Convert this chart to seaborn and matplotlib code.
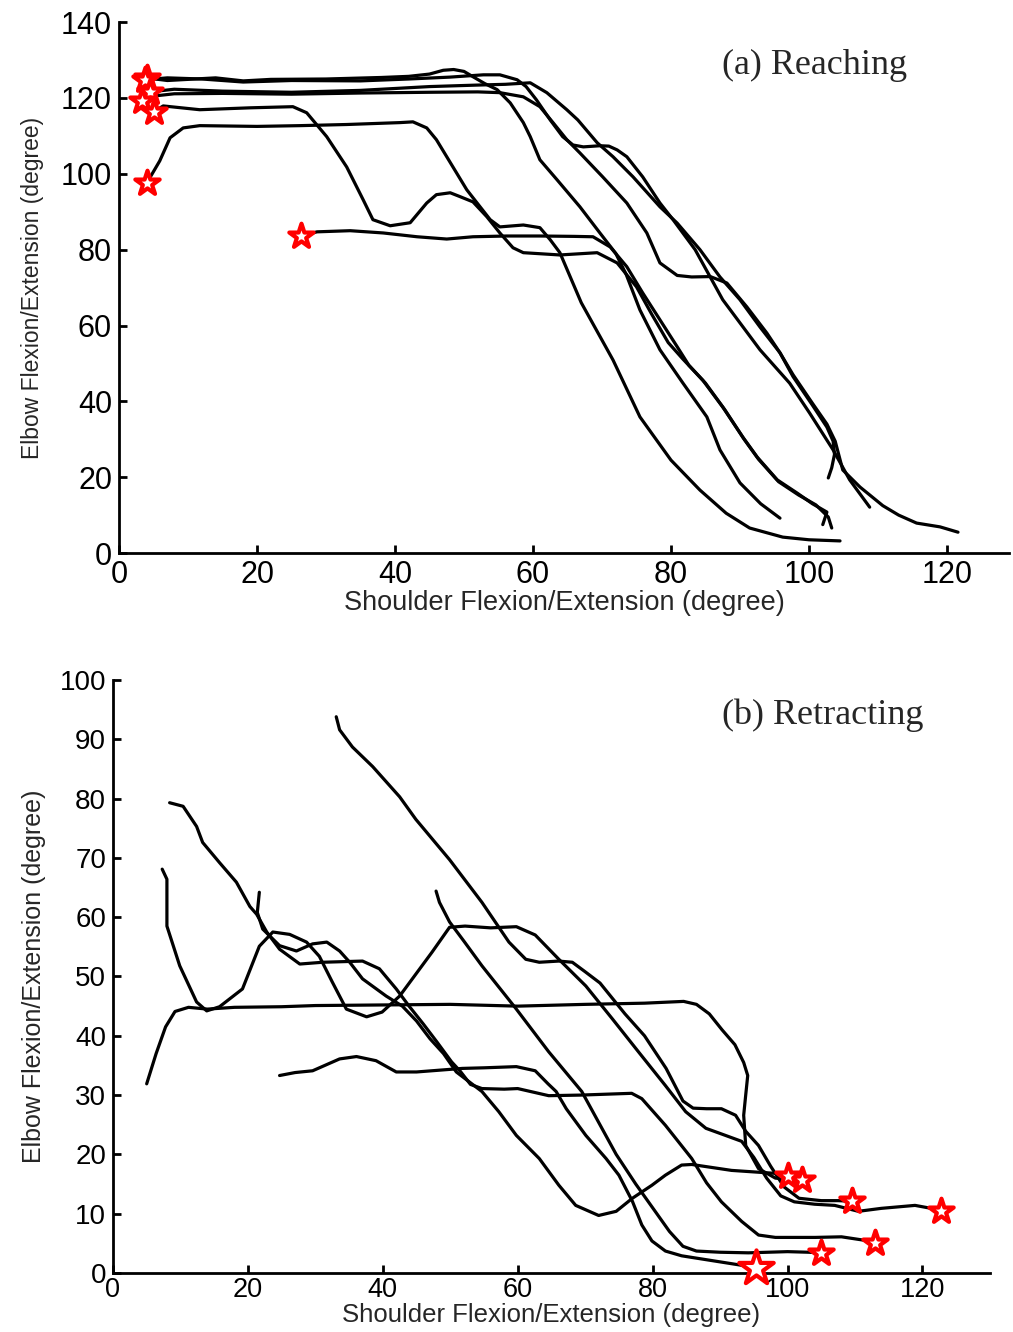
import matplotlib
matplotlib.use("Agg")
import matplotlib.pyplot as plt
import seaborn as sns

# ---------------- (a) Reaching: shoulder vs elbow angle (degree) ----------------
reach_1_x = [4.0, 7, 10, 14, 18, 22, 30, 38, 42, 45, 47, 48.5, 50, 51.3, 53, 54.8, 56.7, 58.6, 59.6, 61,
             63.5, 66.8, 69.7, 72, 73.5, 75.5, 78.4, 81.7, 85.2, 87.1, 90, 93, 95.8]
reach_1_y = [125.3, 124.6, 124.9, 125.3, 124.5, 124.9, 125, 125.4, 125.7, 126.3, 127.3, 127.5, 127, 125.6,
             123.8, 122.2, 118.7, 113.5, 109.8, 103.7, 98.4, 91.3, 84.4, 79, 73.5, 64.1, 53.6, 44.9, 35.9,
             27.2, 18.5, 13, 9.2]

reach_2_x = [3.8, 7, 12, 18, 25, 35, 42, 48, 52.8, 55.2, 57.7, 59, 60.5, 62.5, 64.3, 65.8, 67.3, 69.7, 71,
             72.2, 73.6, 75.9, 78.4, 80.3, 83.5, 87.5, 90.2, 92.9, 97.2, 100.1, 103.5, 105.9, 108.8]
reach_2_y = [124.8, 125.3, 125, 124.2, 124.6, 124.5, 125, 125.5, 126.1, 126.1, 124.8, 123, 119.5, 114.2,
             109.8, 107.6, 107.1, 107.4, 107.3, 106.3, 104.5, 99.2, 92.3, 87.9, 80, 66.8, 60.2, 53.6, 44.8,
             36.9, 27.2, 19.3, 12.1]

reach_3_x = [4.5, 8, 15, 25, 35, 45, 52, 56, 59.6, 62, 64.9, 66.5, 69.3, 71.6, 74.5, 78.4, 80.9, 84.2, 87.1,
             90, 92.9, 95.8, 97.7, 100.5, 102.6, 103.5, 103.7, 103.3, 102.8]
reach_3_y = [121.6, 122.3, 121.8, 121.5, 122, 123, 123.4, 123.6, 124, 121.4, 116.9, 114.2, 108.2, 104.5,
             99.2, 91.3, 87, 80, 72.8, 66.8, 59.6, 52.8, 46.5, 39, 33.2, 29.5, 26, 22.5, 19.8]

reach_4_x = [3.4, 5, 8, 15, 25, 35, 45, 52, 55.2, 58.6, 61, 62.9, 64.9, 66.8, 70.1, 73.6, 76.5, 78.4, 80.9,
             83, 85.7, 88.1, 91, 93.9, 95.8, 97.7, 100.5, 102.6, 103.8, 104.9, 107.4, 110.7, 113, 115.6,
             119, 121.6]
reach_4_y = [119.1, 120.5, 121.1, 121.2, 121, 121.3, 121.5, 121.6, 121.4, 120.3, 117.7, 113.5, 109, 105.5,
             99.2, 92.3, 84.4, 76.5, 73.2, 72.8, 72.9, 71.2, 64.9, 58, 52.8, 47, 39.5, 34, 29.5, 21.9,
             17.4, 12.5, 10, 7.9, 6.9, 5.5]

reach_5_x = [4.0, 5.9, 7.4, 9.3, 11.7, 20, 26.2, 33, 40.7, 42.6, 44.6, 46, 47.5, 48.4, 50.4, 51.9, 53.8,
             55.2, 58.6, 61, 62.5, 63.9, 67, 71.6, 75.5, 80, 84.2, 88, 91.4, 96.2, 100, 104.5]
reach_5_y = [97.5, 103.4, 109.5, 112.1, 112.7, 112.5, 112.7, 113, 113.5, 113.7, 112.1, 109, 104.5, 101.8,
             95.8, 92.3, 87.9, 86, 86.5, 85.8, 82.6, 79.2, 66, 50.9, 35.9, 24.5, 16.6, 10.5, 6.6, 4.2,
             3.5, 3.2]

reach_6_x = [5.1, 6.4, 11.7, 19, 25.2, 27.2, 30.1, 33, 35.4, 36.8, 39.3, 42.2, 44.6, 46, 48, 49.4, 51.3,
             53.3, 55.2, 57.1, 58.6, 63.9, 69.3, 72.2, 75, 77.2, 79.6, 81.7, 84.6, 87.5, 90.4, 92.5, 95.4,
             98.3, 100.5, 102.6, 102]
reach_6_y = [116.4, 117.9, 116.9, 117.4, 117.7, 116.1, 109.8, 101.8, 93.1, 87.9, 86.3, 87.1, 92.3, 94.5,
             95, 94, 92.6, 88.7, 84.4, 80.5, 79.2, 78.6, 79.2, 76.5, 70.2, 63, 55.5, 51.2, 45.6, 38.5,
             30.6, 25.3, 19.3, 15.8, 13, 10.8, 7.5]

reach_7_x = [26.4, 28.7, 33.5, 38.3, 43.2, 47.5, 51.3, 56.2, 61, 66, 68.7, 71.2, 73.6, 75.9, 78.4, 80.9,
             82.6, 85, 87.8, 90.6, 92.7, 95.6, 98.5, 101, 102.8, 103.3]
reach_7_y = [83.6, 84.7, 85, 84.4, 83.4, 82.8, 83.4, 83.6, 83.6, 83.5, 83.4, 80.7, 75.5, 68.6, 61.5, 54.4,
             49.5, 44.8, 37.8, 30, 24.7, 18.8, 15.3, 12.7, 9.5, 6.6]

# ---------------- (b) Retracting ----------------
ret_1_x = [5, 6.4, 7.8, 9.2, 11.2, 14, 18, 25, 30, 40, 50, 60, 70, 78.8, 84.6, 86.5, 88.4, 90.3, 92.2,
           93.5, 94.1, 93.8, 93.5, 93.8, 95.7, 98.2, 102.1]
ret_1_y = [31.9, 37, 41.5, 44.1, 44.8, 44.5, 44.8, 44.9, 45.1, 45.2, 45.3, 45, 45.3, 45.5, 45.8, 45.3,
           43.7, 41, 38.5, 35.5, 33.3, 30, 26.6, 21.5, 17.6, 16, 15.6]

ret_2_x = [7.3, 8, 8, 9.9, 12.4, 13.9, 15.8, 19.2, 21.7, 23.7, 26.2, 28.7, 30.6, 32.5, 34.6, 37.6, 39.9,
           42.5, 47.3, 49.9, 52.2, 56, 59.8, 62.6, 66.1, 70.1, 74, 77.9, 81.9, 84.9, 87.9, 90.8, 93.2, 95,
           96.9, 99, 101, 104, 107, 110.5, 113.9, 118.9, 121.3, 122.8]
ret_2_y = [68.1, 66.4, 58.5, 51.8, 45.7, 44.2, 44.9, 47.9, 55.1, 57.5, 57.1, 55.8, 53.4, 49.1, 44.5, 43.2,
           44, 46.7, 54.1, 58.3, 58.5, 58.2, 58.4, 57, 52.9, 48.4, 42.9, 37.3, 31.6, 27.2, 24.4, 23.2,
           22.2, 19.5, 16, 13, 12, 11.6, 11.4, 10.4, 10.9, 11.4, 10.9, 10.4]

ret_3_x = [8.4, 10.4, 12.4, 13.3, 15.8, 18.3, 20.3, 21.3, 22.8, 24.7, 27.7, 31.1, 37, 39.5, 42, 43.9, 46,
           48, 50.2, 51.5, 53, 54.7, 58, 60, 64.6, 69.3, 76.9, 78.4, 81.9, 85.8, 88, 90.2, 93.2, 95.7,
           98.2, 104.1, 108, 111.5, 112.9]
ret_3_y = [79.3, 78.7, 75.3, 72.6, 69.2, 65.9, 61.8, 60.5, 57.5, 54.6, 52.1, 52.4, 52.6, 51.3, 47.9, 45,
           42, 39, 35.6, 34, 31.8, 31.1, 31, 31.1, 29.9, 30, 30.3, 29.4, 24.9, 19.3, 15.2, 12, 8.7, 6.4,
           6, 6, 6.1, 5.5, 5]

ret_4_x = [21.7, 21.4, 22.2, 24.7, 27.2, 29.6, 31.7, 33.6, 35.1, 37, 40.5, 42.9, 45, 47, 49, 50.9, 54.7,
           57.2, 59.8, 63.2, 66.1, 68.6, 72, 74.6, 77, 79.9, 81.9, 84.3, 85.8, 91.7, 98.2, 100.1]
ret_4_y = [64.2, 60.8, 58, 55.2, 54.3, 55.5, 55.8, 54.3, 52.4, 49.6, 46.7, 45, 42.5, 39.5, 37, 33.9, 30.6,
           27.2, 23.2, 19.3, 14.8, 11.4, 9.7, 10.4, 12.6, 14.8, 16.5, 18.2, 18.3, 17.3, 16.8, 16.3]

ret_5_x = [24.7, 27, 29.6, 33.6, 36.1, 39, 42, 45, 51.8, 55, 59.8, 62.6, 64.5, 65.7, 67.2, 70.1, 73.1, 75,
           77, 78.4, 79.9, 81.9, 84.3, 89.3, 93.2, 95.3]
ret_5_y = [33.3, 33.8, 34.1, 36.1, 36.5, 35.8, 33.9, 33.9, 34.5, 34.6, 34.8, 34.1, 31.9, 30.6, 27.7, 23.2,
           19.3, 16.5, 12.1, 8.1, 5.4, 3.7, 2.9, 2, 1.3, 0.8]

ret_6_x = [33.1, 33.6, 35.5, 38.5, 42.5, 44.9, 49.9, 54.7, 58.7, 61.2, 63.2, 66.1, 68.1, 70, 72.2, 75.9,
           78.8, 82, 84.5, 86, 88, 90.2, 92.3, 93.8, 95.7, 97.5, 99.5, 101.7, 105, 107.5, 109.5]
ret_6_y = [93.8, 91.6, 88.7, 85.4, 80.3, 76.5, 69.7, 62.5, 55.8, 52.9, 52.4, 52.6, 52.4, 50.8, 48.9, 43.7,
           40, 34.5, 29, 27.8, 27.7, 27.7, 26.6, 23.9, 21.5, 18, 14.5, 12.6, 12.2, 12.2, 12.1]

ret_7_x = [47.9, 48.4, 49.9, 52, 54.7, 59.8, 64.6, 69.5, 74.6, 77.5, 80, 82.5, 84.5, 86.5, 90, 94.2, 100,
           103.1, 104.9]
ret_7_y = [64.4, 62.5, 59.2, 56, 51.8, 44.5, 37.3, 30.6, 20, 15, 11, 7, 4.5, 3.7, 3.5, 3.4, 3.6, 3.5, 3.4]

reach_paths = [(reach_1_x, reach_1_y), (reach_2_x, reach_2_y), (reach_3_x, reach_3_y),
               (reach_4_x, reach_4_y), (reach_5_x, reach_5_y), (reach_6_x, reach_6_y),
               (reach_7_x, reach_7_y)]
ret_paths = [(ret_1_x, ret_1_y), (ret_2_x, ret_2_y), (ret_3_x, ret_3_y), (ret_4_x, ret_4_y),
             (ret_5_x, ret_5_y), (ret_6_x, ret_6_y), (ret_7_x, ret_7_y)]

x_label = "Shoulder Flexion/Extension (degree)"
y_label = "Elbow Flexion/Extension (degree)"

sns.set_style("ticks")
plt.rcParams['font.family'] = ['Liberation Sans', 'DejaVu Sans']

fig = plt.figure(figsize=(10.13, 13.32), dpi=100)
ax1 = fig.add_axes([0.1175, 0.5848, 0.8786, 0.3986])
ax2 = fig.add_axes([0.1115, 0.0443, 0.8657, 0.4452])


def draw_paths(ax, paths, star_at_start, big_last=False):
    for xs, ys in paths:
        sns.lineplot(x=xs, y=ys, sort=False, estimator=None, color='black', lw=2.3, ax=ax,
                     solid_joinstyle='round', solid_capstyle='round')
    idx = 0 if star_at_start else -1
    sx = [p[0][idx] for p in paths]
    sy = [p[1][idx] for p in paths]
    sizes = [340] * len(paths)
    if big_last:
        # the end point nearest the x axis gets the larger marker
        k = min(range(len(sy)), key=lambda i: sy[i])
        sizes[k] = 680
    for x0, y0, s in zip(sx, sy, sizes):
        sns.scatterplot(x=[x0], y=[y0], marker='*', s=s, color='white', edgecolor='red',
                        linewidth=3.0, ax=ax, zorder=5, clip_on=False, legend=False)


draw_paths(ax1, reach_paths, star_at_start=True)
draw_paths(ax2, ret_paths, star_at_start=False, big_last=True)

for ax in (ax1, ax2):
    ax.spines[['top', 'right']].set_visible(False)
    for side in ('left', 'bottom'):
        ax.spines[side].set_linewidth(2.0)
        ax.spines[side].set_color('black')
    ax.tick_params(direction='in', length=6, width=2, colors='black', pad=5)
    ax.set_facecolor('white')

ax1.set_xlim(0, 129)
ax1.set_ylim(0, 140)
ax1.set_xticks(range(0, 121, 20))
ax1.set_yticks(range(0, 141, 20))
ax1.tick_params(labelsize=22)
ax1.set_xlabel(x_label, fontsize=19.5, labelpad=0)
ax1.set_ylabel(y_label, fontsize=16.5, labelpad=12)
ax1.text(87.4, 128.5, "(a) Reaching", family=['Liberation Serif', 'DejaVu Serif'], fontsize=26,
         va='center', ha='left')

ax2.set_xlim(0, 130)
ax2.set_ylim(0, 100)
ax2.set_xticks(range(0, 121, 20))
ax2.set_yticks(range(0, 101, 10))
ax2.tick_params(axis='x', labelsize=19.5, pad=3)
ax2.tick_params(axis='y', labelsize=20)
ax2.set_xlabel(x_label, fontsize=18.5, labelpad=0)
ax2.set_ylabel(y_label, fontsize=18, labelpad=10)
ax2.text(90.3, 94, "(b) Retracting", family=['Liberation Serif', 'DejaVu Serif'], fontsize=26,
         va='center', ha='left')

fig.savefig("out.png", dpi=100, facecolor='white')
